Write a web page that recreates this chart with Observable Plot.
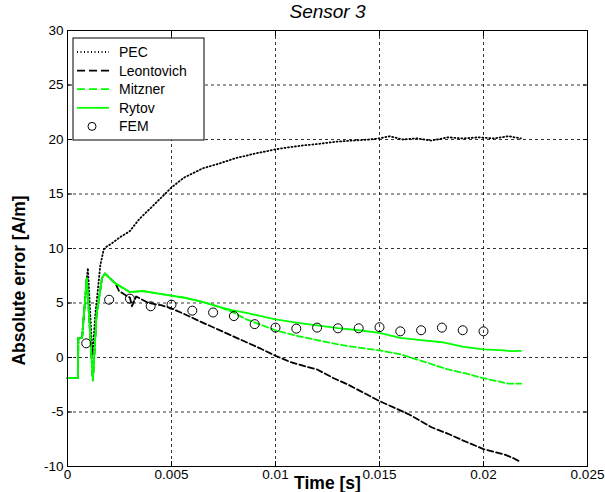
<!DOCTYPE html>
<html><head><meta charset="utf-8">
<script src="https://cdn.jsdelivr.net/npm/d3@7"></script>
<script src="https://cdn.jsdelivr.net/npm/@observablehq/plot@0.6"></script>
<style>
html,body{margin:0;padding:0;background:#fff;}
#chart svg{font-family:"Liberation Sans",Arial,sans-serif;background:#fff;}
</style></head><body><div id="chart"></div>
<script>
const title = "Sensor 3";
const xLabel = "Time [s]";
const yLabel = "Absolute error [A/m]";
const xTicks = [0, 0.005, 0.01, 0.015, 0.02, 0.025];
const xTickLabels = ["0", "0.005", "0.01", "0.015", "0.02", "0.025"];
const yTicks = [-10, -5, 0, 5, 10, 15, 20, 25, 30];
const yTickLabels = ["-10", "-5", "0", "5", "10", "15", "20", "25", "30"];
const seriesNames = ["PEC", "Leontovich", "Mitzner", "Rytov", "FEM"];

const pecT = [0, 0.0005, 0.00052, 0.0007, 0.00093, 0.00098, 0.0012, 0.00134, 0.00158, 0.00174, 0.0019, 0.00215, 0.0025, 0.003, 0.00345, 0.0041, 0.005, 0.0056, 0.0065, 0.0073, 0.0081, 0.009, 0.01, 0.0107, 0.0113, 0.0121, 0.0129, 0.0137, 0.0145, 0.015, 0.0155, 0.0161, 0.0168, 0.0175, 0.0183, 0.019, 0.0198, 0.0205, 0.0212, 0.0218];
const pecV = [-1.9, -1.9, 1.8, 1.8, 7.3, 8.2, 0.2, 4.0, 8.5, 9.9, 10.2, 10.5, 11.0, 11.6, 12.7, 13.9, 15.6, 16.5, 17.35, 17.8, 18.3, 18.7, 19.1, 19.3, 19.45, 19.6, 19.8, 19.9, 20.0, 20.1, 20.3, 20.0, 20.1, 19.9, 20.2, 20.1, 20.2, 20.1, 20.3, 20.1];

const leoT = [0, 0.0005, 0.00052, 0.0007, 0.00093, 0.00122, 0.0014, 0.00166, 0.0018, 0.0023, 0.00248, 0.0028, 0.003, 0.0031, 0.0033, 0.0039, 0.0045, 0.005, 0.0056, 0.0065, 0.0072, 0.0079, 0.0086, 0.0093, 0.01, 0.0107, 0.0114, 0.012, 0.0128, 0.0135, 0.0142, 0.015, 0.0157, 0.0165, 0.0175, 0.0183, 0.019, 0.02, 0.021, 0.0214, 0.0218];
const leoV = [-1.9, -1.9, 1.8, 1.8, 7.3, -2.1, 4.0, 7.3, 7.7, 6.8, 6.1, 5.7, 5.5, 4.7, 5.6, 5.0, 4.8, 4.5, 4.0, 3.2, 2.6, 2.0, 1.4, 0.8, 0.16, -0.4, -0.8, -1.1, -1.9, -2.5, -3.2, -4.0, -4.6, -5.3, -6.4, -7.0, -7.6, -8.4, -8.9, -9.2, -9.6];

const mitT = [0, 0.0005, 0.00052, 0.0007, 0.00093, 0.00122, 0.0014, 0.00166, 0.0018, 0.0023, 0.003, 0.0036, 0.0046, 0.0056, 0.0065, 0.0072, 0.0079, 0.0086, 0.0093, 0.01, 0.011, 0.012, 0.013, 0.014, 0.015, 0.016, 0.017, 0.0183, 0.019, 0.02, 0.0212, 0.0218];
const mitV = [-1.9, -1.9, 1.8, 1.8, 7.3, -2.1, 4.0, 7.3, 7.7, 6.8, 6.0, 6.1, 5.8, 5.5, 5.1, 4.7, 4.2, 3.5, 3.0, 2.5, 2.0, 1.6, 1.2, 0.9, 0.65, 0.3, -0.3, -1.1, -1.4, -1.9, -2.4, -2.4];

const rytT = [0, 0.0005, 0.00052, 0.0007, 0.00093, 0.00122, 0.0014, 0.00166, 0.0018, 0.0023, 0.003, 0.0036, 0.0046, 0.0056, 0.0065, 0.0072, 0.0079, 0.0086, 0.0093, 0.01, 0.011, 0.012, 0.013, 0.014, 0.015, 0.016, 0.017, 0.018, 0.019, 0.02, 0.021, 0.0213, 0.0218];
const rytV = [-1.9, -1.9, 1.8, 1.8, 7.3, -2.1, 4.0, 7.3, 7.7, 6.8, 6.0, 6.1, 5.8, 5.5, 5.1, 4.7, 4.35, 4.1, 3.8, 3.5, 3.2, 2.95, 2.7, 2.5, 2.26, 1.8, 1.6, 1.4, 1.0, 0.75, 0.65, 0.58, 0.6];

const femT = [0.0009, 0.002, 0.003, 0.004, 0.005, 0.006, 0.007, 0.008, 0.009, 0.01, 0.011, 0.012, 0.013, 0.014, 0.015, 0.016, 0.017, 0.018, 0.019, 0.02];
const femV = [1.3, 5.3, 5.4, 4.7, 4.85, 4.3, 4.13, 3.8, 3.06, 2.74, 2.65, 2.74, 2.68, 2.68, 2.78, 2.4, 2.5, 2.74, 2.5, 2.4];

const rows = (T, V) => T.map((t, i) => ({t, v: V[i]}));
const pec = rows(pecT, pecV), leo = rows(leoT, leoV), mit = rows(mitT, mitV), ryt = rows(rytT, rytV), fem = rows(femT, femV);

const GREEN = "#00ff00";
const W = 605, H = 492;

const plot = Plot.plot({
  width: W, height: H,
  marginLeft: 67, marginRight: 18, marginTop: 30, marginBottom: 26,
  style: {fontFamily: '"Liberation Sans", Arial, sans-serif', background: "#fff", color: "black"},
  x: {domain: [0, 0.025], label: null},
  y: {domain: [-10, 30], label: null},
  marks: [
    Plot.gridX(xTicks, {stroke: "black", strokeOpacity: 1, strokeWidth: 0.8, strokeDasharray: "3,3"}),
    Plot.gridY(yTicks, {stroke: "black", strokeOpacity: 1, strokeWidth: 0.8, strokeDasharray: "3,3"}),
    Plot.line(pec, {x: "t", y: "v", stroke: "black", strokeWidth: 1.8, strokeDasharray: "1,2.5"}),
    Plot.line(leo, {x: "t", y: "v", stroke: "black", strokeWidth: 1.8, strokeDasharray: "6,3"}),
    Plot.line(mit, {x: "t", y: "v", stroke: GREEN, strokeWidth: 1.8, strokeDasharray: "6,3"}),
    Plot.line(ryt, {x: "t", y: "v", stroke: GREEN, strokeWidth: 1.8}),
    Plot.dot(fem, {x: "t", y: "v", r: 4.5, stroke: "black", fill: "none", strokeWidth: 1}),
    Plot.frame({stroke: "black", strokeWidth: 1}),
    Plot.axisX(xTicks, {anchor: "bottom", tickSize: 0, tickPadding: 3, fontSize: 13.5, label: null,
      tickFormat: d => xTickLabels[xTicks.indexOf(d)]}),
    Plot.axisY(yTicks, {anchor: "left", tickSize: 0, tickPadding: 4, fontSize: 13.5, label: null,
      tickFormat: d => yTickLabels[yTicks.indexOf(d)]}),
    Plot.axisX(xTicks, {anchor: "bottom", tickSize: 5, fill: "none", dy: -5, label: null}),
    Plot.axisX(xTicks, {anchor: "top", tickSize: 5, fill: "none", dy: 5, label: null}),
    Plot.axisY(yTicks, {anchor: "left", tickSize: 5, fill: "none", dx: 5, label: null}),
    Plot.axisY(yTicks, {anchor: "right", tickSize: 5, fill: "none", dx: -5, label: null}),
    Plot.text([title], {frameAnchor: "top", dy: -19, lineAnchor: "middle", textAnchor: "middle", fontSize: 19, fontStyle: "italic", fill: "black"}),
    Plot.text([xLabel], {frameAnchor: "bottom", dy: 17, lineAnchor: "middle", textAnchor: "middle", fontSize: 17.5, fontWeight: "bold", fill: "black"}),
    Plot.text([yLabel], {frameAnchor: "left", dx: -48, dy: 32, rotate: -90, lineAnchor: "middle", textAnchor: "middle", fontSize: 17.5, fontWeight: "bold", fill: "black"})
  ]
});

// Legend (drawn inside the plot svg, MATLAB-style box)
const svg = d3.select(plot);
const lg = svg.append("g").attr("transform", "translate(73,38)");
lg.append("rect").attr("width", 131).attr("height", 102).attr("fill", "white").attr("stroke", "black").attr("stroke-width", 1);
const styles = [
  {stroke: "black", dash: "1,2.5"},
  {stroke: "black", dash: "8,4"},
  {stroke: GREEN, dash: "8,4"},
  {stroke: GREEN, dash: null},
  {marker: true}
];
seriesNames.forEach((name, i) => {
  const cy = 14 + i * 18.6;
  const s = styles[i];
  if (s.marker) {
    lg.append("circle").attr("cx", 19).attr("cy", cy).attr("r", 4).attr("fill", "none").attr("stroke", "black");
  } else {
    const l = lg.append("line").attr("x1", 4).attr("x2", 36).attr("y1", cy).attr("y2", cy)
      .attr("stroke", s.stroke).attr("stroke-width", 1.8);
    if (s.dash) l.attr("stroke-dasharray", s.dash);
  }
  lg.append("text").attr("x", 46).attr("y", cy).attr("dy", "0.36em").attr("font-size", 14)
    .attr("text-anchor", "start").attr("fill", "black").text(name);
});

document.getElementById("chart").appendChild(plot);
</script></body></html>
